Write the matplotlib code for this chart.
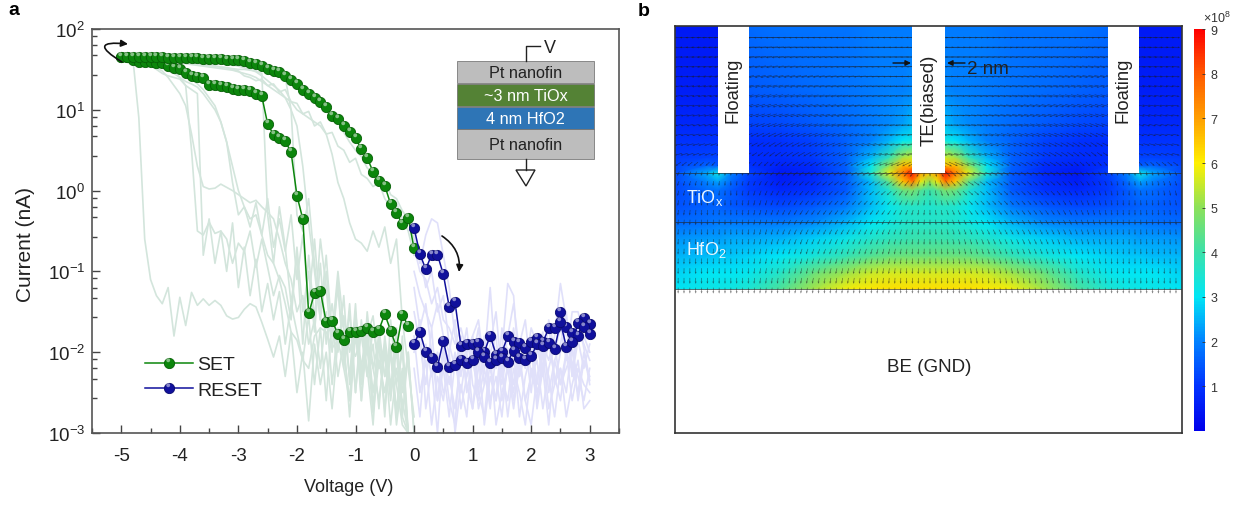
import numpy as np
import matplotlib
matplotlib.use("Agg")
import matplotlib.pyplot as plt
from matplotlib.colors import LinearSegmentedColormap
from matplotlib.legend_handler import HandlerTuple
from matplotlib.patches import FancyArrowPatch, Polygon, Rectangle
from matplotlib.path import Path
from matplotlib.ticker import FixedLocator, NullFormatter

plt.rcParams["font.family"] = ["Liberation Sans", "DejaVu Sans"]
plt.rcParams["mathtext.default"] = "regular"
plt.rcParams["axes.unicode_minus"] = False

W, H = 1241, 506

# panel a, currents as log10(I / nA)
SET_SWEEP = [-5.0, -4.9, -4.8, -4.7, -4.6, -4.5, -4.4, -4.3, -4.2, -4.1, -4.0, -3.9, -3.8, -3.7, -3.6, -3.5, -3.4,
             -3.3, -3.2, -3.1, -3.0, -2.9, -2.8, -2.7, -2.6, -2.5, -2.4, -2.3, -2.2, -2.1, -2.0, -1.9, -1.8, -1.7,
             -1.6, -1.5, -1.4, -1.3, -1.2, -1.1, -1.0, -0.9, -0.8, -0.7, -0.6, -0.5, -0.4, -0.3, -0.2, -0.1, 0.0]
RESET_SWEEP = [0.0, 0.1, 0.2, 0.3, 0.4, 0.5, 0.6, 0.7, 0.8, 0.9, 1.0, 1.1, 1.2, 1.3, 1.4, 1.5, 1.6, 1.7, 1.8, 1.9,
               2.0, 2.1, 2.2, 2.3, 2.4, 2.5, 2.6, 2.7, 2.8, 2.9, 3.0]

# outgoing sweep of the SET curve, read from -5 V up to -0.1 V
set_low = [1.657, 1.657, 1.62, 1.588, 1.588, 1.588, 1.583, 1.575, 1.546, 1.513, 1.509, 1.459, 1.414, 1.402, 1.39,
           1.311, 1.303, 1.294, 1.278, 1.257, 1.249, 1.241, 1.229, 1.2, 1.167, 0.824, 0.692, 0.647, 0.614, 0.474,
           -0.063, -0.351, -1.519, -1.272, -1.243, -1.63, -1.61, -1.775, -1.853, -1.754, -1.754, -1.733, -1.705,
           -1.754, -1.725, -1.527, -1.733, -1.94, -1.54, -1.672]
# return sweep of the SET curve, same voltages, ending at 0 V
set_high = [1.658, 1.658, 1.658, 1.656, 1.654, 1.652, 1.65, 1.648, 1.645, 1.643, 1.641, 1.639, 1.637, 1.635, 1.633,
            1.631, 1.629, 1.625, 1.621, 1.616, 1.612, 1.6, 1.579, 1.563, 1.538, 1.501, 1.485, 1.464, 1.423, 1.373,
            1.315, 1.245, 1.192, 1.142, 1.093, 1.039, 0.919, 0.886, 0.804, 0.721, 0.647, 0.515, 0.404, 0.234,
            0.119, 0.061, -0.166, -0.277, -0.417, -0.335, -0.714]
reset_high = [-0.463, -0.785, -0.974, -0.793, -0.793, -1.036, -1.436, -1.383, -1.919, -1.903, -1.899, -1.89, -2.0,
              -1.795, -2.03, -2.0, -1.804, -1.878, -1.886, -1.948, -1.87, -1.828, -1.878, -1.7, -1.705, -1.507,
              -1.692, -1.762, -1.795, -1.581, -1.651]
reset_low = [-1.894, -1.746, -2.002, -2.072, -2.179, -1.857, -2.179, -2.158, -2.096, -2.138, -2.096, -1.993, -2.055,
             -2.138, -2.096, -2.076, -2.117, -1.98, -2.076, -2.096, -2.051, -1.9, -1.927, -1.89, -1.96, -1.63,
             -1.932, -1.878, -1.639, -1.692, -1.775]

# pale SET cycles behind the highlighted one
set_cycles = [
    [1.65, 1.64, 1.62, 0.9, -0.6, -1.1, -1.3, -1.4, -1.2, -1.8, -1.32, -1.67, -1.26, -1.42, -1.34, -1.42, -1.36, -1.42,
     -1.55, -1.59, -1.57, -1.47, -1.4, -1.44, -1.63, -1.84, -2.06, -1.8, -2.3, -1.75, -2.5, -2.0, -2.85, -1.9, -2.4,
     -2.0, -2.7, -1.85, -2.2, -2.6, -1.8, -2.3, -1.95, -2.75, -2.1, -2.5, -2.0, -2.9, -2.3, -3.0, -3.0],
    [1.65, 1.64, 1.63, 1.62, 1.6, 1.59, 1.55, 1.52, 1.5, 1.48, 1.4, 1.3, 0.5, -0.5, -0.55, -0.39, -0.53, -0.5, -0.6,
     -0.9, -0.65, -0.75, -0.5, -0.95, -0.6, -0.95, -1.3, -1.05, -1.2, -1.6, -0.7, -1.5, -1.0, -1.75, -0.9, -1.9, -1.4,
     -2.0, -1.3, -2.4, -1.5, -2.2, -1.6, -2.7, -1.7, -2.3, -1.9, -2.8, -1.8, -3.0, -3.0],
    [1.65, 1.64, 1.63, 1.62, 1.6, 1.58, 1.52, 1.48, 1.4, 1.3, 1.2, 1.05, 0.7, 0.3, 0.05, 0.02, 0.03, 0.08, 0.04, 0.0,
     -0.05, -0.1, -0.15, -0.12, -0.2, -0.27, -0.35, -0.6, -0.9, -1.1, -1.5, -1.3, -1.9, -1.6, -2.2, -1.5, -2.4, -1.7,
     -2.0, -2.6, -1.6, -2.3, -1.8, -2.5, -1.9, -2.7, -2.0, -2.4, -2.9, -3.0, -3.0],
    [1.65, 1.64, 1.63, 1.62, 1.6, 1.58, 1.55, 1.52, 1.48, 1.45, 1.4, 1.35, 1.32, 1.28, 1.2, 1.1, 1.0, 0.85, 0.6, 0.1,
     -0.3, -0.2, -0.45, -0.15, -0.55, -0.1, -0.7, -0.35, -0.75, -0.3, -1.1, -0.55, -1.4, -0.6, -1.5, -0.8, -1.8, -1.0,
     -1.7, -2.3, -1.4, -2.6, -1.5, -2.2, -1.85, -2.8, -1.6, -2.4, -2.0, -3.0, -3.0],
    [1.65, 1.64, 1.63, 1.6, 1.58, 1.55, 1.5, 1.45, 1.42, 1.4, 1.38, 1.3, 1.25, 1.2, -0.8, -0.35, -0.9, -0.5, -1.0, -0.4,
     -1.2, -0.7, -1.3, -0.85, -1.5, -1.15, -1.6, -1.25, -1.9, -1.4, -1.75, -2.1, -1.55, -2.4, -1.7, -2.6, -1.6, -2.3,
     -1.85, -2.8, -1.7, -2.4, -1.9, -2.2, -2.6, -2.0, -2.9, -2.2, -2.6, -3.0, -3.0],
    [1.65, 1.65, 1.64, 1.64, 1.63, 1.63, 1.62, 1.62, 1.61, 1.6, 1.6, 1.59, 1.58, 1.57, 1.56, 1.55, 1.54, 1.53, 1.52,
     1.51, 1.5, 1.5, 1.49, 1.48, 1.45, -0.3, -0.9, -0.2, -0.7, -1.4, -0.8, -1.9, -0.8, -1.6, -0.6, -1.2, -2.0, -1.1,
     -2.2, -1.4, -2.5, -1.6, -2.3, -1.9, -2.7, -1.8, -2.4, -2.0, -2.8, -3.0, -3.0],
    [1.65, 1.65, 1.64, 1.64, 1.63, 1.63, 1.62, 1.62, 1.61, 1.6, 1.6, 1.6, 1.59, 1.59, 1.58, 1.58, 1.57, 1.57, 1.56,
     1.55, 1.55, 1.54, 1.54, 1.53, 1.52, 1.5, 1.47, 1.44, 1.4, 1.0, -0.3, -0.5, -0.1, -0.9, -1.6, -1.0, -1.8, -1.2,
     -2.1, -1.5, -2.5, -1.7, -2.2, -2.9, -1.8, -2.3, -2.0, -2.7, -2.2, -3.0, -3.0],
    [1.65, 1.65, 1.65, 1.64, 1.64, 1.64, 1.63, 1.63, 1.63, 1.62, 1.62, 1.62, 1.62, 1.61, 1.6, 1.6, 1.6, 1.59, 1.58,
     1.56, 1.54, 1.52, 1.5, 1.47, 1.42, 1.36, 1.3, 1.24, 1.15, 1.0, 0.8, 0.3, -0.4, -1.0, -1.6, -1.7, -1.75, -1.9,
     -1.55, -2.0, -1.7, -2.6, -1.8, -1.55, -2.2, -1.9, -2.5, -1.7, -2.8, -2.0, -3.0],
    [1.65, 1.65, 1.65, 1.65, 1.65, 1.65, 1.64, 1.64, 1.64, 1.64, 1.63, 1.63, 1.63, 1.62, 1.62, 1.62, 1.61, 1.61, 1.6,
     1.6, 1.6, 1.6, 1.59, 1.57, 1.56, 1.53, 1.5, 1.44, 1.42, 1.36, 1.3, 1.26, 1.18, 1.16, 1.05, 1.0, 0.9, 0.86, 0.72,
     0.6, 0.5, 0.42, 0.28, 0.22, 0.1, 0.12, -0.05, -0.1, -0.25, -0.35, -0.6],
    [1.65, 1.65, 1.64, 1.64, 1.63, 1.62, 1.62, 1.61, 1.6, 1.6, 1.6, 1.59, 1.58, 1.57, 1.56, 1.55, 1.54, 1.53, 1.52, 1.5,
     1.48, 1.42, 1.4, 1.36, 1.38, 1.3, 1.32, 1.22, 1.25, 1.1, 1.08, 0.95, 0.98, 0.8, 0.85, 0.7, 0.72, 0.55, 0.5, 0.35,
     0.4, 0.2, 0.15, 0.05, 0.1, -0.1, -0.2, -0.15, -0.35, -0.5, -0.8],
    [1.65, 1.65, 1.64, 1.63, 1.63, 1.62, 1.61, 1.6, 1.6, 1.59, 1.58, 1.57, 1.56, 1.55, 1.54, 1.53, 1.52, 1.51, 1.5, 1.49,
     1.47, 1.45, 1.43, 1.4, 1.35, 1.3, 1.25, 1.2, 1.15, 1.1, 1.0, 0.95, 0.9, 0.85, 0.8, 0.7, 0.45, 0.1, -0.1, -0.4,
     -0.6, -0.65, -0.75, -0.5, -0.7, -0.45, -0.9, -0.6, -1.6, -2.2, -2.8],
    [1.65, 1.64, 1.64, 1.63, 1.62, 1.6, 1.58, 1.56, 1.53, 1.5, 1.46, 1.42, 1.38, 1.32, 1.25, 1.15, 1.05, 0.85, 0.6, 0.3,
     0.0, -0.2, -0.35, -0.3, -0.55, -0.8, -0.9, -1.1, -1.4, -1.75, -1.85, -2.1, -2.2, -1.8, -1.7, -1.75, -1.95, -1.85,
     -1.6, -1.9, -2.05, -1.8, -2.3, -1.7, -2.2, -1.95, -2.6, -1.9, -2.5, -2.0, -3.0],
]
reset_cycles = [
    [-0.5, -0.9, -0.55, -0.35, -0.4, -0.8, -1.2, -1.8, -2.1, -2.3, -1.9, -2.4, -2.1, -1.2, -2.2, -2.0, -1.15, -1.3, -2.3,
     -2.0, -1.8, -2.4, -1.9, -2.1, -1.8, -1.15, -1.6, -2.2, -1.7, -1.9, -2.1],
    [-1.5, -1.9, -2.4, -1.7, -2.6, -2.2, -2.8, -2.1, -2.5, -2.0, -2.7, -2.2, -1.9, -2.6, -2.3, -2.8, -2.1, -2.5, -2.0,
     -2.6, -2.3, -2.1, -2.7, -2.2, -1.9, -2.4, -2.0, -2.6, -2.2, -2.4, -2.5],
    [-1.0, -1.3, -1.5, -1.7, -1.4, -1.8, -2.0, -1.6, -2.3, -1.9, -2.1, -2.5, -1.8, -2.2, -2.6, -1.7, -2.0, -2.4, -1.9,
     -1.6, -2.3, -2.0, -1.75, -2.5, -2.1, -1.9, -1.5, -2.3, -1.6, -1.95, -2.35],
    [-2.0, -1.6, -2.7, -2.2, -3.0, -2.0, -2.6, -2.9, -1.9, -2.4, -2.7, -2.0, -2.9, -2.3, -2.6, -2.1, -2.8, -2.2, -2.5,
     -2.9, -2.2, -2.6, -2.0, -2.3, -2.8, -2.2, -2.5, -1.9, -2.6, -2.1, -2.3],
    [-0.7, -1.0, -1.1, -1.4, -1.2, -1.6, -1.7, -1.9, -1.7, -2.0, -1.8, -1.6, -2.2, -1.9, -1.5, -2.3, -1.8, -1.4, -2.0,
     -2.2, -1.7, -1.9, -2.3, -1.6, -2.0, -1.7, -2.1, -1.5, -1.5, -1.8, -2.0],
    [-1.8, -2.5, -2.1, -2.9, -2.3, -2.6, -2.0, -3.0, -2.4, -2.8, -1.95, -2.7, -2.4, -2.0, -2.9, -2.5, -2.2, -2.7, -2.1,
     -2.6, -2.9, -2.3, -2.0, -2.7, -2.4, -2.2, -2.8, -2.4, -2.1, -2.7, -2.6],
    [-0.6, -0.8, -1.2, -1.0, -1.5, -1.3, -1.9, -2.2, -1.8, -2.5, -2.1, -1.7, -2.4, -2.0, -1.8, -2.6, -2.2, -1.7, -2.3,
     -1.9, -2.5, -1.8, -2.2, -1.65, -2.4, -2.0, -1.7, -2.3, -1.85, -2.2, -1.9],
    [-1.2, -1.7, -1.4, -2.0, -2.6, -1.9, -2.4, -2.0, -2.7, -2.3, -1.8, -2.5, -2.8, -2.1, -2.0, -2.4, -1.95, -2.6, -2.2,
     -2.0, -1.85, -2.7, -2.2, -1.9, -2.3, -2.6, -2.0, -2.2, -2.5, -2.0, -2.4],
    [-2.2, -2.8, -1.9, -2.3, -2.0, -2.5, -2.3, -2.7, -2.1, -1.7, -2.4, -2.6, -2.2, -2.7, -2.0, -2.3, -2.6, -2.0, -2.8,
     -2.3, -2.0, -2.5, -2.2, -2.9, -2.1, -2.4, -2.2, -2.0, -2.3, -2.6, -2.2],
]

# panel b, field magnitude (x 1e8), left half of the device, mirrored at x = 0
field_x = [-15.4, -13.5, -12.8, -12.0, -10.9, -9.0, -7.0, -5.0, -3.5, -2.4, -1.6, -1.0, -0.5, 0.0]
field_y = [0, 1, 2, 3, 4, 5, 6, 6.5, 7.03, 7.5, 8, 9, 10, 12, 16]
field = [
    [3.0, 3.2, 3.2, 3.3, 3.5, 4.2, 5.2, 5.9, 6.1, 6.2, 6.2, 6.2, 6.2, 6.2],
    [2.8, 3.0, 3.0, 3.0, 3.1, 3.6, 4.5, 5.1, 5.5, 5.6, 5.6, 5.6, 5.6, 5.6],
    [2.5, 2.6, 2.7, 2.7, 2.8, 3.0, 3.4, 3.9, 4.3, 4.5, 4.6, 4.6, 4.6, 4.6],
    [2.2, 2.3, 2.3, 2.4, 2.4, 2.5, 2.8, 3.2, 3.6, 3.8, 3.9, 4.0, 4.0, 4.0],
    [1.7, 1.8, 1.9, 1.9, 1.9, 1.9, 2.1, 2.5, 3.0, 3.3, 3.5, 3.6, 3.6, 3.6],
    [1.4, 1.6, 1.6, 1.5, 1.4, 1.3, 1.5, 1.9, 2.6, 3.1, 3.5, 3.6, 3.6, 3.5],
    [1.3, 1.7, 1.8, 1.5, 1.1, 0.8, 1.0, 1.5, 2.6, 3.6, 4.6, 4.8, 4.3, 4.0],
    [1.3, 2.0, 2.3, 1.7, 1.1, 0.6, 0.9, 1.5, 2.6, 4.4, 6.5, 7.5, 5.8, 5.0],
    [1.3, 2.4, 3.2, 2.0, 1.2, 0.5, 0.8, 1.5, 3.5, 5.8, 7.5, 8.8, 7.0, 6.5],
    [1.2, 1.6, 1.5, 1.4, 1.0, 0.7, 0.9, 1.6, 3.0, 5.0, 6.6, 6.6, 5.5, 5.0],
    [1.1, 1.2, 1.2, 1.1, 0.9, 0.9, 1.1, 1.6, 2.5, 3.8, 5.2, 5.5, 5.0, 5.0],
    [1.0, 1.0, 1.0, 1.0, 0.9, 1.0, 1.2, 1.6, 2.0, 2.5, 3.0, 3.3, 3.2, 3.2],
    [0.8, 0.8, 0.8, 0.8, 1.2, 1.3, 1.5, 1.7, 1.9, 2.1, 2.3, 2.6, 2.6, 2.6],
    [0.6, 0.6, 0.6, 0.6, 1.5, 1.6, 1.7, 1.8, 1.9, 2.0, 2.0, 2.1, 2.1, 2.1],
    [0.5, 0.5, 0.5, 0.5, 1.7, 1.8, 1.8, 1.8, 1.9, 1.9, 1.9, 1.9, 1.9, 1.9],
]

# arrow direction (degrees below horizontal, pointing away from the TE) and length (nm)
arrow_abs_x = [0, 1, 2.5, 5, 7.5, 10, 12, 15.4]
arrow_y = [0, 2, 4, 5.5, 7, 8, 10, 16]
arrow_angle = [
    [90, 90, 88, 85, 82, 85, 90, 90],
    [90, 85, 78, 72, 72, 80, 90, 88],
    [90, 78, 62, 58, 60, 75, 90, 85],
    [90, 70, 45, 45, 50, 70, 90, 80],
    [90, 50, 25, 30, 35, 50, 90, 60],
    [10, 10, 10, 25, 30, 40, 20, 15],
    [0, 0, 5, 10, 15, 20, 15, 10],
    [0, 0, 0, 0, 0, 0, 0, 0],
]
arrow_len = [
    [.36, .36, .36, .36, .36, .36, .36, .36],
    [.36, .36, .36, .36, .36, .36, .36, .36],
    [.34, .34, .34, .34, .34, .34, .34, .34],
    [.34, .34, .34, .34, .34, .34, .34, .34],
    [.34, .5, .5, .4, .4, .3, .25, .3],
    [.7, .7, .6, .5, .5, .4, .3, .5],
    [.7, .7, .7, .7, .65, .6, .5, .4],
    [.8, .8, .8, .8, .8, .8, .8, .5],
]
electrodes = [(-12.79, -10.9), (-1.03, 0.97), (10.85, 12.73)]
layer_tops = [0.0, 4.06, 7.03]
stack_layers = [
    ("Pt nanofin", "#bdbdbd", "#222222", 62, 84),
    ("~3 nm TiOx", "#548235", "white", 85, 107),
    ("4 nm HfO2", "#2e75b6", "white", 108, 130),
    ("Pt nanofin", "#bdbdbd", "#222222", 130, 160),
]


def ball(ax, x, y, color, edge, **kw):
    # glossy bead: a solid dot and a small light spot on top of it
    body, = ax.plot(x, y, color=color, lw=1.1, marker="o", ms=7.4, mfc=color, mec=edge, mew=0.6, **kw)
    spot = Path.circle((-0.08, 0.2), 0.12)
    shine, = ax.plot(x, y, ls="none", marker=spot, ms=7.4, mfc="#ffffff", mec="none", alpha=0.5, **kw)
    return body, shine


fig = plt.figure(figsize=(W / 100, H / 100), dpi=100)

# panel a
ax = fig.add_axes([92 / W, (H - 434) / H, 527 / W, 404 / H])
for trace in set_cycles:
    ax.plot(SET_SWEEP[:len(trace)], 10.0 ** np.array(trace), color="#d3e5dc", lw=1.2, zorder=1)
for trace in reset_cycles:
    ax.plot(RESET_SWEEP[:len(trace)], 10.0 ** np.array(trace), color="#e0e0fa", lw=1.2, zorder=1)

set_handle = ball(ax, SET_SWEEP[:-1], 10.0 ** np.array(set_low), "#0c860c", "#066006", zorder=3)
ball(ax, SET_SWEEP, 10.0 ** np.array(set_high), "#0c860c", "#066006", zorder=3)
reset_handle = ball(ax, RESET_SWEEP, 10.0 ** np.array(reset_high), "#10109c", "#0a0a70", zorder=4)
ball(ax, RESET_SWEEP, 10.0 ** np.array(reset_low), "#10109c", "#0a0a70", zorder=4)

ax.set_yscale("log")
ax.set_xlim(-5.5, 3.5)
ax.set_ylim(1e-3, 1e2)
ax.set_xticks([-5, -4, -3, -2, -1, 0, 1, 2, 3])
ax.set_xticks([-5.5, -4.5, -3.5, -2.5, -1.5, -0.5, 0.5, 1.5, 2.5, 3.5], minor=True)
ax.yaxis.set_minor_locator(FixedLocator([m * 10.0 ** e for e in range(-3, 2) for m in (2.7, 4.7, 6.3, 8.2)]))
ax.yaxis.set_minor_formatter(NullFormatter())
ax.tick_params(which="major", direction="in", length=6, width=1.0, color="#444444", labelsize=13.5,
               labelcolor="#222222", pad=5)
ax.tick_params(axis="x", which="major", pad=10)
ax.tick_params(which="minor", direction="in", length=3.5, width=1.0, color="#444444")
ax.set_xlabel("Voltage (V)", fontsize=13, color="#222222")
ax.set_ylabel("Current (nA)", fontsize=15, color="#222222")
ax.xaxis.set_label_coords(0.488, -0.112)
ax.yaxis.set_label_coords(-0.108, 0.47)
for s in ax.spines.values():
    s.set_color("#555555")
    s.set_linewidth(1.2)
ax.legend([set_handle, reset_handle], ["SET", "RESET"], handler_map={tuple: HandlerTuple(ndivide=1, pad=0)},
          frameon=False, fontsize=14, handlelength=2.5, handletextpad=0.2, labelspacing=0.42, borderpad=0,
          labelcolor="#222222", loc="lower left", bbox_to_anchor=(43 / 527, 24 / 404))

# panel b
bx = fig.add_axes([675 / W, (H - 434) / H, 507 / W, 407 / H])
cmap = LinearSegmentedColormap.from_list("field", [
    (0 / 9, (0, 0, 235 / 255)), (1 / 9, (0, 50 / 255, 1)), (2 / 9, (0, 130 / 255, 1)),
    (3 / 9, (0, 230 / 255, 245 / 255)), (4 / 9, (60 / 255, 225 / 255, 170 / 255)),
    (5 / 9, (140 / 255, 225 / 255, 90 / 255)), (6 / 9, (1, 240 / 255, 0)), (7 / 9, (1, 160 / 255, 0)),
    (8 / 9, (1, 90 / 255, 0)), (9 / 9, (1, 0, 0))])
half = np.array(field)
grid_x = np.concatenate([field_x, -np.array(field_x[-2::-1])])
grid_c = np.hstack([half, half[:, -2::-1]])
X, Y = np.meshgrid(grid_x, field_y)
mesh = bx.pcolormesh(X, Y, grid_c, shading="gouraud", cmap=cmap, vmin=0, vmax=9, zorder=1)

# arrow lattice
ang = np.array(arrow_angle, float)
lng = np.array(arrow_len, float)
ax_x, ax_y, ax_u, ax_v = [], [], [], []
for y0 in np.arange(-0.1, 15.7, 0.59):
    for x0 in np.arange(-15.2, 15.3, 0.355):
        a0 = np.interp(abs(x0), arrow_abs_x, [np.interp(y0, arrow_y, ang[:, j]) for j in range(len(arrow_abs_x))])
        l0 = np.interp(abs(x0), arrow_abs_x, [np.interp(y0, arrow_y, lng[:, j]) for j in range(len(arrow_abs_x))])
        ax_x.append(x0)
        ax_y.append(y0)
        ax_u.append(np.sign(x0) * l0 * np.cos(np.radians(a0)))
        ax_v.append(-l0 * np.sin(np.radians(a0)))
bx.quiver(ax_x, ax_y, ax_u, ax_v, angles="xy", scale_units="xy", scale=1, units="dots", width=0.6, headwidth=3.2,
          headlength=4, headaxislength=3.6, pivot="mid", color="#1a1a1a", alpha=0.6, zorder=2)

for x0, x1 in electrodes:
    bx.add_patch(Rectangle((x0, 7.03), x1 - x0, 10, fc="white", ec="none", zorder=3))
for y0 in layer_tops:
    bx.axhline(y0, color="#222222", lw=0.6, alpha=0.7, zorder=2.5)
bx.add_patch(Rectangle((-15.4, -8.73), 30.8, 8.45, fc="white", ec="none", zorder=2.2))
bx.set_xlim(-15.39, 15.34)
bx.set_ylim(-8.73, 15.94)
bx.set_xticks([])
bx.set_yticks([])
for s in bx.spines.values():
    s.set_color("#333333")
    s.set_linewidth(1.2)
    s.set_zorder(6)

cax = fig.add_axes([1194 / W, (H - 432) / H, 11 / W, 402 / H])
cb = fig.colorbar(mesh, cax=cax)
cb.set_ticks([1, 2, 3, 4, 5, 6, 7, 8, 9])
cb.ax.tick_params(direction="in", length=2, width=0.6, labelsize=9, pad=4, color="#333333", labelcolor="#333333")
cb.outline.set_visible(False)

# overlay in image pixels for the annotations
ov = fig.add_axes([0, 0, 1, 1], zorder=10)
ov.set_xlim(0, W)
ov.set_ylim(H, 0)
ov.axis("off")
ov.patch.set_alpha(0)

ov.text(8, 10, "a", fontsize=14, fontweight="bold", ha="left", va="center")
ov.text(638, 11, "b", fontsize=14, fontweight="bold", ha="left", va="center")

for name, fc, tc, y0, y1 in stack_layers:
    ov.add_patch(Rectangle((457, y0), 137, y1 - y0, fc=fc, ec="#666666", lw=0.5))
    ov.text(525.5, (y0 + y1) / 2, name, color=tc, fontsize=11.7, ha="center", va="center")
ov.plot([526, 526, 540], [62, 47, 47], color="#222222", lw=1)
ov.text(550, 48, "V", fontsize=13, color="#222222", ha="center", va="center")
ov.plot([526, 526], [160, 171], color="#222222", lw=1)
ov.add_patch(Polygon([(516, 171), (535, 171), (526, 187)], closed=True, fc="white", ec="#222222", lw=1))

ov.add_patch(FancyArrowPatch((122, 63), (128, 45), connectionstyle="arc3,rad=-2.2", arrowstyle="-|>",
                             mutation_scale=10, lw=1.2, color="#111111", shrinkA=0, shrinkB=0))
ov.add_patch(FancyArrowPatch((442, 237), (459, 273), connectionstyle="arc3,rad=-0.3", arrowstyle="-|>",
                             mutation_scale=10, lw=1.2, color="#111111", shrinkA=0, shrinkB=0))
ov.add_patch(FancyArrowPatch((893, 64), (911, 64), arrowstyle="-|>", mutation_scale=8, lw=1, color="#111111",
                             shrinkA=0, shrinkB=0))
ov.add_patch(FancyArrowPatch((965, 64), (947, 64), arrowstyle="-|>", mutation_scale=8, lw=1, color="#111111",
                             shrinkA=0, shrinkB=0))
ov.text(967, 69, "2 nm", fontsize=13.5, color="#222222", ha="left", va="center")
ov.text(733, 90, "Floating", fontsize=13.2, rotation=90, color="#222222", ha="center", va="center")
ov.text(1123, 90, "Floating", fontsize=13.2, rotation=90, color="#222222", ha="center", va="center")
ov.text(929, 100, "TE(biased)", fontsize=13.5, rotation=90, color="#222222", ha="center", va="center")
ov.text(929, 367, "BE (GND)", fontsize=13.5, color="#222222", ha="center", va="center")
ov.text(686, 198, "TiO$_{x}$", fontsize=13, color="#e8f6ff", ha="left", va="center")
ov.text(686, 250, "HfO$_{2}$", fontsize=13, color="#e8f6ff", ha="left", va="center")
ov.text(1203, 18, r"$\times 10^{8}$", fontsize=9, color="#333333", ha="left", va="center")

fig.savefig("out.png", dpi=100)
